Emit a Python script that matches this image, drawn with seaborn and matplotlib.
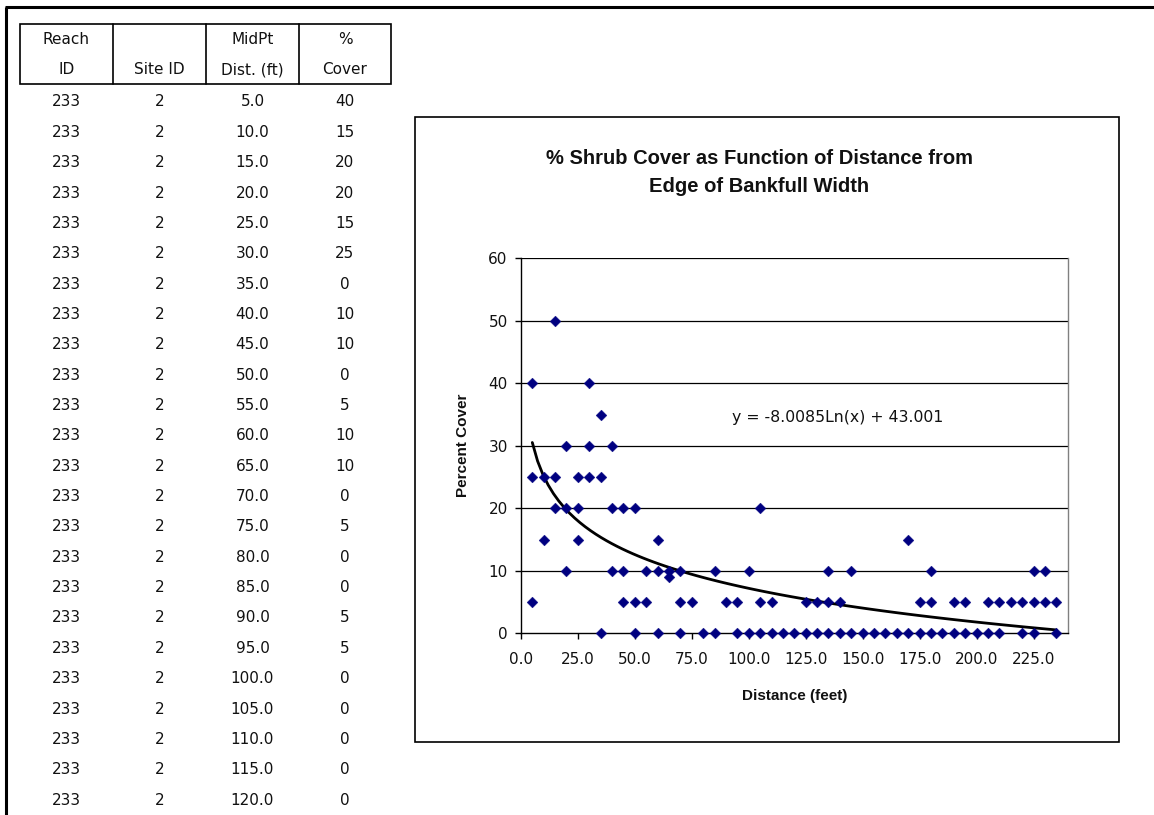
import numpy as np
import pandas as pd
import matplotlib
matplotlib.use("Agg")
import matplotlib.pyplot as plt
import seaborn as sns

# ---- spreadsheet table (left side) ----
table_reach = 233
table_site = 2
table_dist = [5.0, 10.0, 15.0, 20.0, 25.0, 30.0, 35.0, 40.0, 45.0, 50.0, 55.0, 60.0,
              65.0, 70.0, 75.0, 80.0, 85.0, 90.0, 95.0, 100.0, 105.0, 110.0, 115.0, 120.0]
table_cover = [40, 15, 20, 20, 15, 25, 0, 10, 10, 0, 5, 10,
               10, 0, 5, 0, 0, 5, 5, 0, 0, 0, 0, 0]
header_top = ["Reach", "", "MidPt", "%"]
header_bottom = ["ID", "Site ID", "Dist. (ft)", "Cover"]

# ---- scatter data (distance ft, percent cover) ----
dist_ft = [
    15,                                   # 50
    5, 30,                                # 40
    35,                                   # 35
    20, 30, 40,                           # 30
    5, 10, 15, 25, 30, 35,                # 25
    15, 20, 25, 40, 45, 50, 105,          # 20
    10, 25, 60, 170,                      # 15
    20, 40, 45, 55, 60, 65, 70, 85, 100, 135, 145, 180, 225, 230,   # 10
    65,                                   # 9
    5, 45, 50, 55, 70, 75, 90, 95, 105, 110, 125, 130, 135, 140,
    175, 180, 190, 195, 205, 210, 215, 220, 225, 230, 235,          # 5
    35, 50, 60, 70, 80, 85, 95, 100, 105, 110, 115, 120, 125, 130,
    135, 140, 145, 150, 155, 160, 165, 170, 175, 180, 185, 190, 195,
    200, 205, 210, 220, 225, 235,                                   # 0
]
cover_pct = [
    50,
    40, 40,
    35,
    30, 30, 30,
    25, 25, 25, 25, 25, 25,
    20, 20, 20, 20, 20, 20, 20,
    15, 15, 15, 15,
    10, 10, 10, 10, 10, 10, 10, 10, 10, 10, 10, 10, 10, 10,
    9,
    5, 5, 5, 5, 5, 5, 5, 5, 5, 5, 5, 5, 5, 5,
    5, 5, 5, 5, 5, 5, 5, 5, 5, 5, 5,
    0, 0, 0, 0, 0, 0, 0, 0, 0, 0, 0, 0, 0, 0,
    0, 0, 0, 0, 0, 0, 0, 0, 0, 0, 0, 0, 0,
    0, 0, 0, 0, 0, 0,
]
x_ticks = [0, 25, 50, 75, 100, 125, 150, 175, 200, 225]
y_ticks = [0, 10, 20, 30, 40, 50, 60]
equation = "y = -8.0085Ln(x) + 43.001"

df = pd.DataFrame({"Distance": dist_ft, "Cover": cover_pct})

sns.set_style("white")
plt.rcParams["font.family"] = ["DejaVu Sans"]

W, H = 1154, 815
fig = plt.figure(figsize=(W / 100, H / 100), dpi=100)

# background layer in pixel coordinates for the sheet, table and chart frame
bg = fig.add_axes([0, 0, 1, 1], zorder=0)
bg.set_xlim(0, W)
bg.set_ylim(H, 0)
bg.axis("off")

# screenshot frame
bg.plot([5, W], [7, 7], color="black", lw=2.2, solid_capstyle="butt")
bg.plot([6, 6], [7, H], color="black", lw=2.2, solid_capstyle="butt")

# table header box
col_edges = [20, 113, 206, 299, 391]
bg.add_patch(plt.Rectangle((20, 24), 371, 60, fill=False, ec="black", lw=1.2))
for xe in col_edges[1:-1]:
    bg.plot([xe, xe], [24, 84], color="black", lw=1.2)
col_centers = [(a + b) / 2 for a, b in zip(col_edges[:-1], col_edges[1:])]
for cx, t1, t2 in zip(col_centers, header_top, header_bottom):
    bg.text(cx, 40, t1, ha="center", va="center", fontsize=11, color="#111111")
    bg.text(cx, 70, t2, ha="center", va="center", fontsize=11, color="#111111")

row_y0, row_h = 102, 30.35
for i, (d, c) in enumerate(zip(table_dist, table_cover)):
    y = row_y0 + i * row_h
    bg.text(col_centers[0], y, str(table_reach), ha="center", va="center", fontsize=11, color="#111111")
    bg.text(col_centers[1], y, str(table_site), ha="center", va="center", fontsize=11, color="#111111")
    bg.text(col_centers[2], y, f"{d:.1f}", ha="center", va="center", fontsize=11, color="#111111")
    bg.text(col_centers[3], y, str(c), ha="center", va="center", fontsize=11, color="#111111")

# chart area box
bg.add_patch(plt.Rectangle((415, 117), 704, 625, fill=False, ec="black", lw=1.2))
bg.text(759, 159, "% Shrub Cover as Function of Distance from", ha="center", va="center",
        fontsize=14.5, fontweight="bold", family=["Liberation Sans"], color="#111111")
bg.text(759, 187, "Edge of Bankfull Width", ha="center", va="center",
        fontsize=14.5, fontweight="bold", family=["Liberation Sans"], color="#111111")

# plot area
left, right, top, bottom = 520.9, 1067.7, 258.3, 633.3
ax = fig.add_axes([left / W, 1 - bottom / H, (right - left) / W, (bottom - top) / H], zorder=1)
ax.patch.set_alpha(0)

sns.scatterplot(data=df, x="Distance", y="Cover", marker="D", s=30, color="#000080",
                edgecolor="#000080", linewidth=0.3, ax=ax, zorder=3, clip_on=False)
sns.regplot(data=df, x="Distance", y="Cover", logx=True, scatter=False, ci=None,
            color="black", line_kws={"lw": 2.0, "zorder": 2}, ax=ax)

ax.set_xlim(0, 240)
ax.set_ylim(0, 60)
ax.set_xticks(x_ticks)
ax.set_xticklabels([f"{v:.1f}" for v in x_ticks])
ax.set_yticks(y_ticks)
ax.set_yticklabels([str(v) for v in y_ticks])
for v in y_ticks[1:]:
    ax.axhline(v, color="black", lw=0.9, zorder=1)

ax.spines["top"].set_visible(False)
ax.spines["right"].set_color("#808080")
ax.spines["right"].set_linewidth(1.0)
for side in ["left", "bottom"]:
    ax.spines[side].set_color("black")
    ax.spines[side].set_linewidth(1.0)

ax.tick_params(axis="both", direction="out", length=4.5, width=1.0, color="black",
               labelsize=11, labelcolor="#111111")
ax.tick_params(axis="x", pad=9, bottom=True)
ax.tick_params(axis="y", pad=5, left=True)

ax.set_xlabel("Distance (feet)", fontsize=11, fontweight="bold", family=["Liberation Sans"],
              labelpad=16, color="#111111")
ax.set_ylabel("Percent Cover", fontsize=11, fontweight="bold", family=["Liberation Sans"],
              labelpad=13, color="#111111")

ax.text(92.8, 34.6, equation, ha="left", va="center", fontsize=11.3, color="#111111")

fig.savefig("out.png", dpi=100, facecolor="white")
